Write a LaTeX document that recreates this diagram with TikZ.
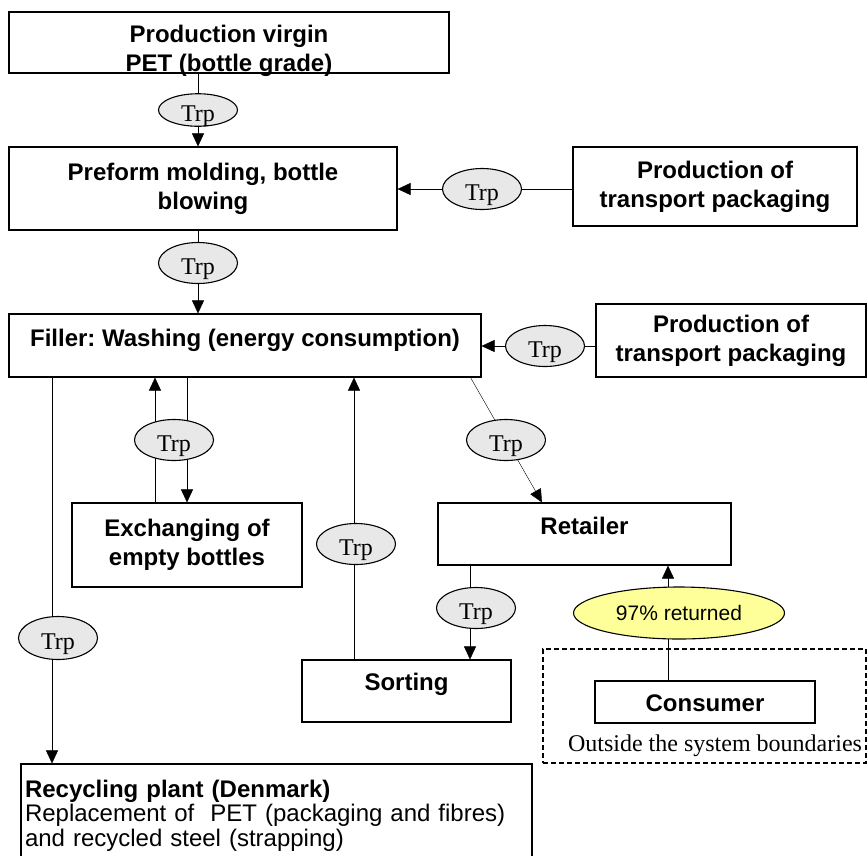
\documentclass[tikz,border=0pt]{standalone}
\usepackage{fontspec}
\setmainfont{Liberation Serif}
\setsansfont{Liberation Sans}
\usepackage {tikz}
\usetikzlibrary {positioning,shapes.geometric,arrows.meta,backgrounds}
\definecolor{trpgray}{rgb}{0.91, 0.91, 0.91}
\definecolor{returnyellow}{rgb}{1, 1, 0.6}
\frenchspacing
\newcommand{\boxfont}{\sffamily\bfseries\fontsize{24}{29}\selectfont}
\newcommand{\trpfont}{\rmfamily\fontsize{24}{28}\selectfont}

\begin{document}
\begin{tikzpicture}[x=1pt, y=-1pt, line width=1.1pt, >={Triangle[length=13pt,width=12pt]},
  box/.style={draw, align=center, inner sep=0pt, font=\boxfont},
  trp/.style={ellipse, draw, fill=trpgray, inner sep=0pt, minimum width=79pt, minimum height=41pt, text height=23pt, text depth=-1pt, font=\trpfont}]
			 \useasboundingbox (0,0) rectangle (867,855);
			 \node [box, minimum width=440pt, minimum height=61pt, text height=59.6pt, text depth=1.4pt] (PET) at (229,42.5) {Production virgin\\PET (bottle grade)};
			 \node [box, minimum width=388pt, minimum height=83pt] (PRE) at (203,188.5) {Preform molding, bottle\\blowing};
			 \node [box, minimum width=284pt, minimum height=79pt] (PKGA) at (715,186.5) {Production of\\transport packaging};
			 \node [box, minimum width=472pt, minimum height=63pt, text height=32.6pt, text depth=30.4pt] (FIL) at (245,345.5) {Filler: Washing (energy consumption)};
			 \node [box, minimum width=270pt, minimum height=73pt] (PKGB) at (731,340.5) {Production of\\transport packaging};
			 \node [box, minimum width=230pt, minimum height=84pt] (EXC) at (187,545) {Exchanging of\\empty bottles};
			 \node [box, minimum width=293pt, minimum height=62pt, text height=31.6pt, text depth=30.4pt] (RET) at (584.5,534) {Retailer};
			 \node [box, minimum width=209pt, minimum height=62pt, text height=30.6pt, text depth=31.4pt] (SRT) at (406.5,691) {Sorting};
			 \node [box, minimum width=220pt, minimum height=42pt, text height=30.6pt, text depth=11.4pt] (CON) at (705,702) {Consumer};
			 \node [draw, dash pattern=on 5pt off 3pt, minimum width=323pt, minimum height=114pt] (BND) at (704.5,706) {};
			 \node [inner sep=0pt, font=\trpfont] (OUT) [below=11pt of CON, xshift=10pt] {Outside the system boundaries};
			 \node [draw, inner sep=0pt, minimum width=511pt, minimum height=103pt, text width=503pt, align=left, font=\sffamily\fontsize{24}{24.5}\selectfont] (REC) at (276.5,815.5) {\textbf{Recycling plant (Denmark)}\\Replacement of\ \ PET (packaging and fibres)\\and recycled steel (strapping)};
			 % transports
			 \node [trp, minimum height=32pt] (T1) at (198,110) {Trp};
			 \node [trp] (T2) at (482,189) {Trp};
			 \node [trp] (T3) at (198,263) {Trp};
			 \node [trp] (T4) at (545,346) {Trp};
			 \node [trp] (T5) at (174,440) {Trp};
			 \node [trp, minimum height=43pt] (T6) at (58,638) {Trp};
			 \node [trp] (T7) at (356,544) {Trp};
			 \node [trp] (T8) at (506,440) {Trp};
			 \node [trp] (T9) at (476,608) {Trp};
			 \node [ellipse, draw, fill=returnyellow, inner sep=0pt, minimum width=211pt, minimum height=52pt, font=\sffamily\fontsize{21}{25}\selectfont] (YEL) at (679,613) {97\% returned};
			 \begin{scope}[on background layer]
			 \draw [->] (PET.south -| T1) -- (PRE.north -| T1);
			 \draw [->] (PKGA.west |- T2) -- (PRE.east |- T2);
			 \draw [->] (PRE.south -| T3) -- (FIL.north -| T3);
			 \draw [->] (PKGB.west |- T4) -- (FIL.east |- T4);
			 \draw [->] ([xshift=-19pt]EXC.north -| T5) -- ([xshift=-19pt]FIL.south -| T5);
			 \draw [->] ([xshift=13pt]FIL.south -| T5) -- ([xshift=13pt]EXC.north -| T5);
			 \draw [->] ([xshift=-6pt]FIL.south -| T6) -- ([xshift=-6pt]REC.north -| T6);
			 \draw [->] ([xshift=-2pt]SRT.north -| T7) -- ([xshift=-2pt]FIL.south -| T7);
			 \draw [->] ([xshift=-11pt]FIL.south east) -- ([xshift=-42.5pt]RET.north);
			 \draw [->] ([xshift=-6pt]RET.south -| T9) -- ([xshift=-6pt]SRT.north -| T9);
			 \draw [->] ([xshift=-11pt]CON.north -| YEL) -- ([xshift=-11pt]RET.south -| YEL);
			 \end{scope}
		\end{tikzpicture}
\end{document}
